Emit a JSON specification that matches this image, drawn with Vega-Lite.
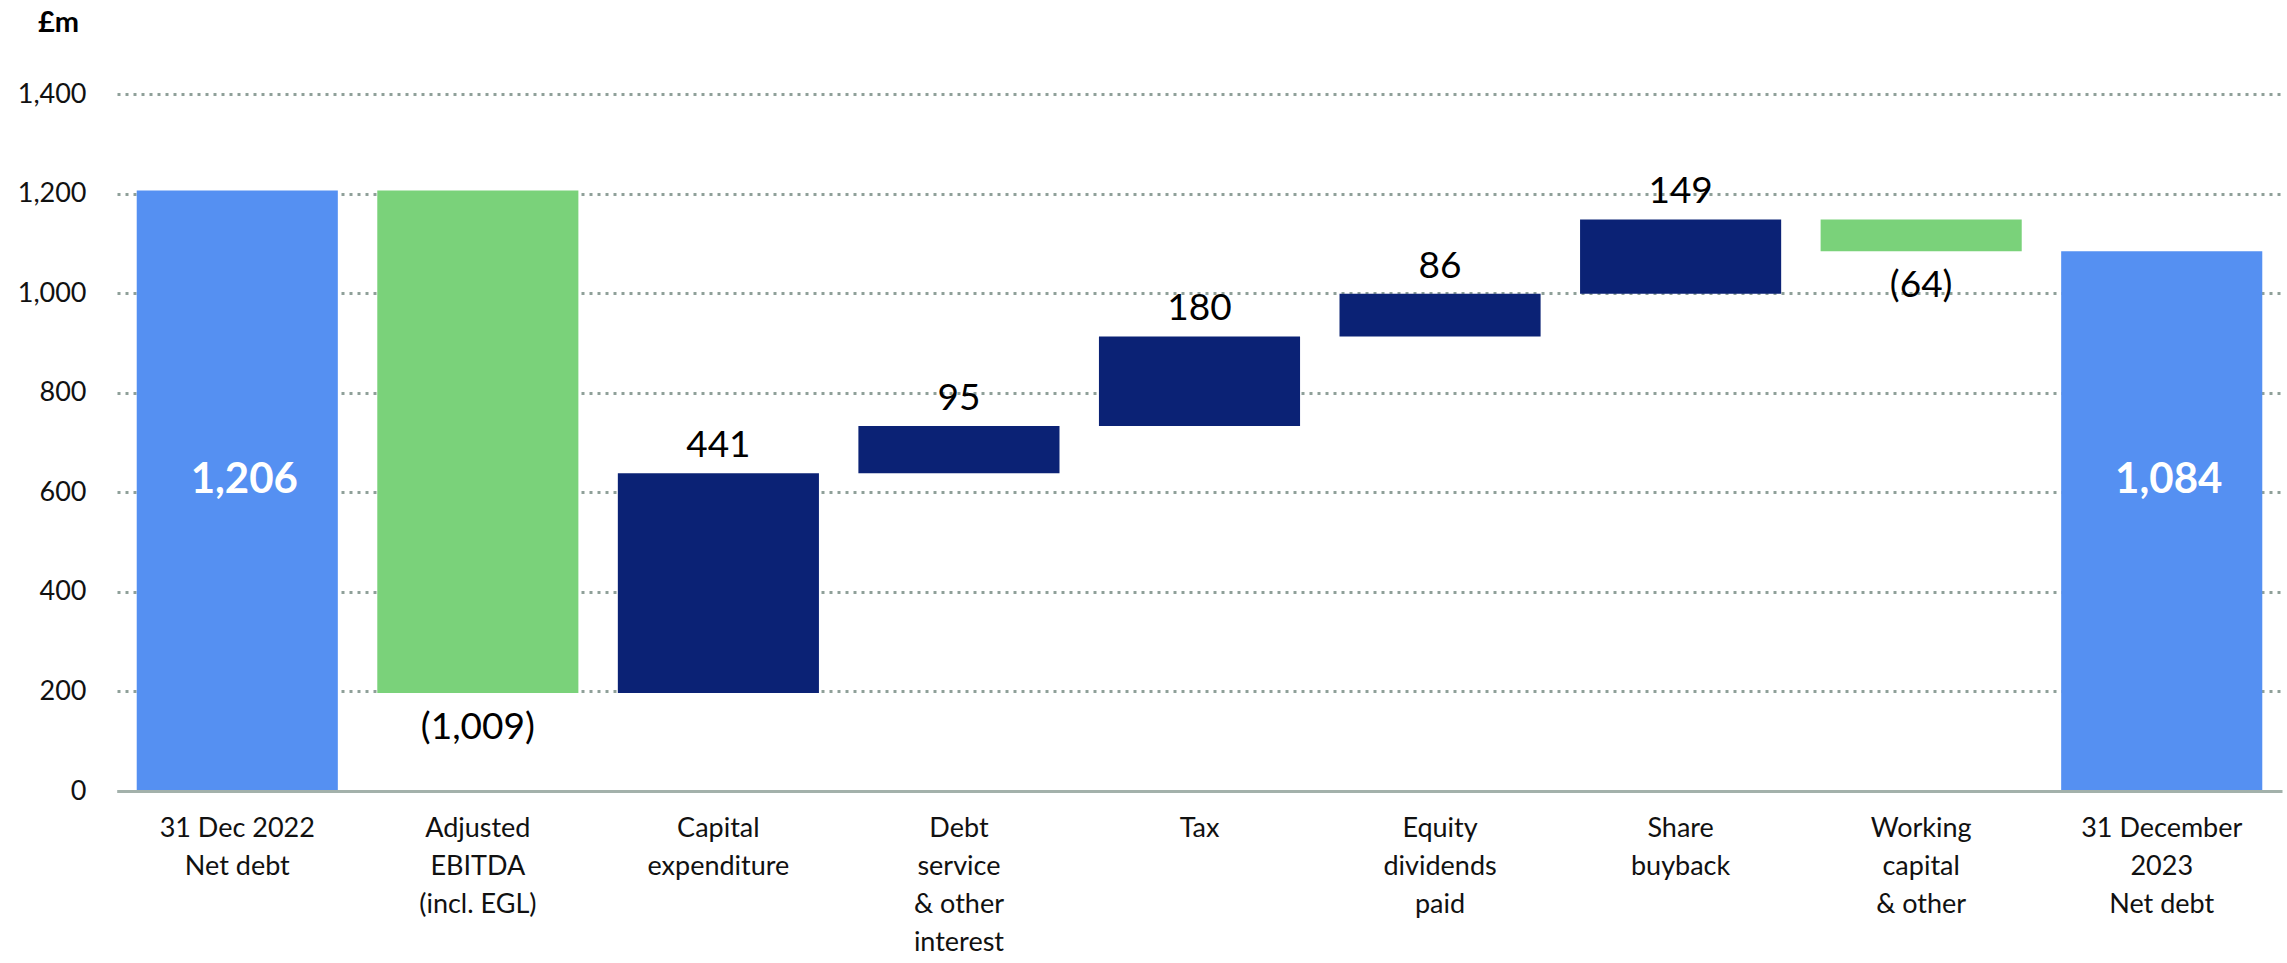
{
  "$schema": "https://vega.github.io/schema/vega-lite/v6.json",
  "width": 2165,
  "height": 697,
  "autosize": {"type": "none"},
  "padding": {"left": 117, "top": 94, "right": 5, "bottom": 172},
  "background": "white",
  "config": {
    "font": "Lato",
    "view": {"stroke": null}
  },
  "data": {
    "values": [
      {"cat": "31 Dec 2022|Net debt", "start": 0, "end": 1206, "label": "1,206", "kind": "total"},
      {"cat": "Adjusted|EBITDA|(incl. EGL)", "start": 1206, "end": 197, "label": "(1,009)", "kind": "decrease"},
      {"cat": "Capital|expenditure", "start": 197, "end": 638, "label": "441", "kind": "increase"},
      {"cat": "Debt|service|& other|interest", "start": 638, "end": 733, "label": "95", "kind": "increase"},
      {"cat": "Tax", "start": 733, "end": 913, "label": "180", "kind": "increase"},
      {"cat": "Equity|dividends|paid", "start": 913, "end": 999, "label": "86", "kind": "increase"},
      {"cat": "Share|buyback", "start": 999, "end": 1148, "label": "149", "kind": "increase"},
      {"cat": "Working|capital|& other", "start": 1148, "end": 1084, "label": "(64)", "kind": "decrease"},
      {"cat": "31 December|2023|Net debt", "start": 0, "end": 1084, "label": "1,084", "kind": "total"}
    ]
  },
  "encoding": {
    "x": {
      "field": "cat",
      "type": "nominal",
      "sort": null,
      "scale": {"paddingInner": 0.164, "paddingOuter": 0.082},
      "axis": {
        "title": null,
        "labelAngle": 0,
        "labelExpr": "split(datum.label, '|')",
        "labelFontSize": 27,
        "labelLineHeight": 38,
        "labelColor": "#111111",
        "labelPadding": 24,
        "labelFont": "Lato",
        "ticks": false,
        "domainColor": "#A3B1AB",
        "domainWidth": 3,
        "zindex": 1,
        "grid": false
      }
    }
  },
  "layer": [
    {
      "mark": {"type": "bar"},
      "encoding": {
        "y": {
          "field": "start",
          "type": "quantitative",
          "scale": {"domain": [0, 1400], "nice": false},
          "axis": {
            "title": "£m",
            "titleAngle": 0,
            "titleAlign": "center",
            "titleBaseline": "middle",
            "titleX": -59,
            "titleY": -72,
            "titleFontSize": 29,
            "titleFontWeight": "bold",
            "titleColor": "#000000",
            "values": [0, 200, 400, 600, 800, 1000, 1200, 1400],
            "format": ",.0f",
            "labelFontSize": 27,
            "labelColor": "#111111",
            "labelPadding": 31,
            "ticks": false,
            "domain": false,
            "grid": true,
            "gridColor": "#8FA099",
            "gridWidth": 3,
            "gridDash": [3, 5],
            "zindex": 0
          }
        },
        "y2": {"field": "end"},
        "color": {
          "field": "kind",
          "type": "nominal",
          "scale": {
            "domain": ["total", "decrease", "increase"],
            "range": ["#5590F2", "#7AD27A", "#0B2275"]
          },
          "legend": null
        }
      }
    },
    {
      "transform": [{"filter": "datum.kind === 'increase'"}],
      "mark": {"type": "text", "fontSize": 37, "color": "#000000", "baseline": "middle", "dy": -27},
      "encoding": {
        "y": {"field": "end", "type": "quantitative"},
        "text": {"field": "label"}
      }
    },
    {
      "transform": [{"filter": "datum.kind === 'decrease'"}],
      "mark": {"type": "text", "fontSize": 37, "color": "#000000", "baseline": "middle", "dy": 35},
      "encoding": {
        "y": {"field": "end", "type": "quantitative"},
        "text": {"field": "label"}
      }
    },
    {
      "transform": [{"filter": "datum.kind === 'total'"}],
      "mark": {"type": "text", "fontSize": 42, "fontWeight": "bold", "color": "#FFFFFF", "baseline": "middle", "dx": 7},
      "encoding": {
        "y": {"datum": 624, "type": "quantitative"},
        "text": {"field": "label"}
      }
    }
  ]
}
